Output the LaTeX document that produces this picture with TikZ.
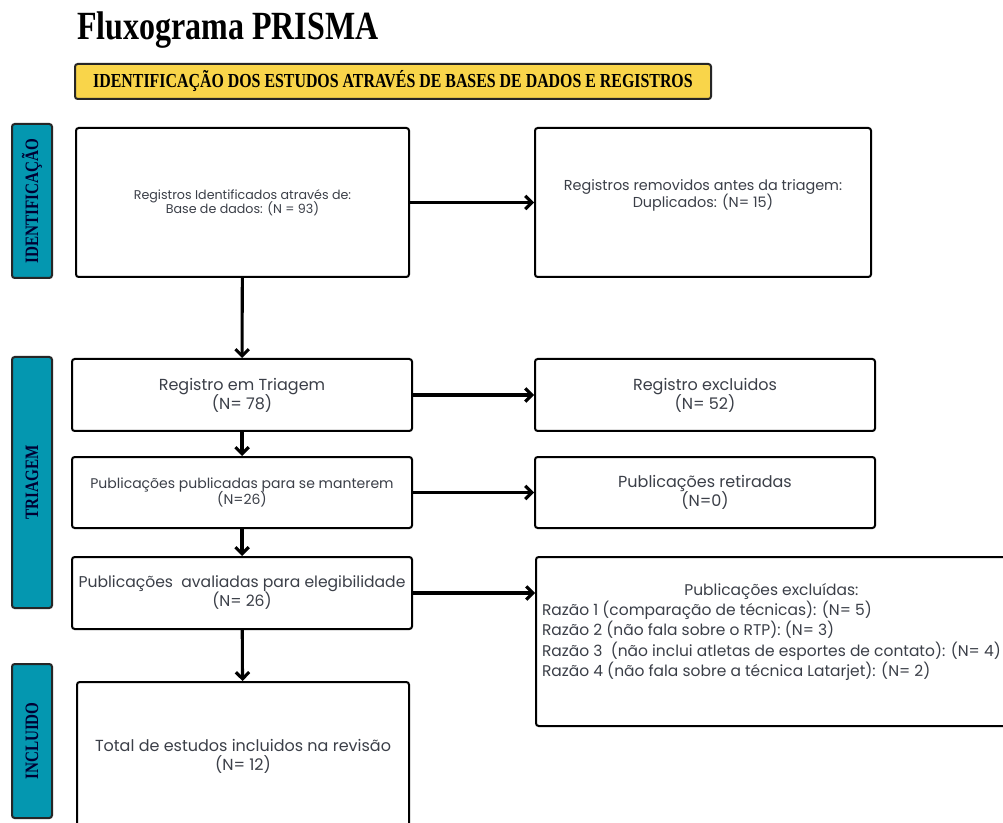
\documentclass[tikz,border=0pt]{standalone}
\usepackage{fontspec}
\usepackage{tikz}
\usetikzlibrary{arrows.meta}
\setmainfont{Poppins}
\newfontfamily\titre[FakeStretch=0.8]{Liberation Serif}
\definecolor{jaune}{HTML}{F9D54A}
\definecolor{bleu}{HTML}{0497B0}
\definecolor{texte}{HTML}{3B3F48}

\begin{document}
\begin{tikzpicture}[x=0.75pt,y=-0.75pt]
    \tikzstyle{fleche}=[-{Straight Barb[length=5pt,width=10pt]},line width=2.3pt]
\tikzset{etape/.style={draw,line width=1.5pt,rounded corners=2pt,fill=white,text=texte,align=center,
inner sep=2pt,font=\fontsize{12}{14.25}\selectfont,
execute at begin node={\lineskiplimit=-20pt\lineskip=0pt}},
phase/.style={draw=black!85,line width=1.5pt,rounded corners=2pt,fill=bleu,rotate=90,
inner sep=0pt,minimum height=30pt,text={black!80!blue},font=\titre\bfseries\fontsize{14.2}{15}\selectfont}}
\useasboundingbox (0,0) rectangle (1003,823);
\clip (0,0) rectangle (1003,823);
\fill[white] (0,0) rectangle (1003,823);

% titre et bandeau
\node[anchor=base west,inner sep=0pt,font=\titre\bfseries\fontsize{30}{32}\selectfont] (titre) at (77,40) {Fluxograma PRISMA};
\node[draw=black!85,line width=1.5pt,rounded corners=2pt,fill=jaune,minimum width=477pt,minimum height=26.25pt,
font=\titre\bfseries\fontsize{14.9}{16}\selectfont] (bandeau) at (393,81.5)
{IDENTIFICAÇÃO DOS ESTUDOS ATRAVÉS DE BASES DE DADOS E REGISTROS};

% phases
\node[phase,minimum width=115.5pt] (P1) at (32,201) {IDENTIFICAÇÃO};
\node[phase,minimum width=188.25pt] (P2) at (32,482.5) {TRIAGEM};
\node[phase,minimum width=115.5pt] (P3) at (32,741) {INCLUIDO};

% colonne de gauche
\node[etape,font=\fontsize{9.5}{10.6}\selectfont,minimum width=249.75pt,minimum height=111.75pt] (A) at (242.5,202.5)
{Registros Identificados através de:\\Base de dados: (N = 93)};
\node[etape,minimum width=255pt,minimum height=54pt] (C) at (242,395)
{Registro em Triagem\\(N= 78)};
\node[etape,font=\fontsize{10.5}{12}\selectfont,minimum width=255pt,minimum height=53.25pt] (E) at (242,492.5)
{Publicações publicadas para se manterem\\(N=26)};
\node[etape,font=\fontsize{11.7}{14.25}\selectfont,minimum width=255pt,minimum height=54pt] (G) at (242,593)
{Publicações\ \ avaliadas para elegibilidade\\(N= 26)};
\node[etape,minimum width=249pt,minimum height=111pt] (I) at (243,756)
{Total de estudos incluidos na revisão\\(N= 12)};

% colonne de droite
\node[etape,font=\fontsize{10.8}{12.75}\selectfont,minimum width=252pt,minimum height=111.75pt] (B) at (703,202.5)
{Registros removidos antes da triagem:\\Duplicados: (N= 15)\\[1pt]};
\node[etape,minimum width=255pt,minimum height=54pt] (D) at (705,395)
{Registro excluidos\\(N= 52)};
\node[etape,minimum width=255pt,minimum height=53.25pt] (F) at (705,492.5)
{Publicações retiradas\\(N=0)};
\node[etape,anchor=west,inner xsep=4.5pt,font=\fontsize{11.6}{14.1}\selectfont,minimum height=126.75pt,
execute at begin node={\lineskiplimit=0pt\lineskip=1pt}] (H) at (535,641.5)
{\begin{tabular}{@{}l@{}}
\multicolumn{1}{@{}c@{}}{Publicações excluídas:}\\
Razão 1 (comparação de técnicas): (N= 5)\\
Razão 2 (não fala sobre o RTP): (N= 3)\\
Razão 3\ \ (não inclui atletas de esportes de contato): (N= 4)\\
Razão 4 (não fala sobre a técnica Latarjet): (N= 2)\\[14pt]
\end{tabular}};

% fleches
\draw[fleche] (A) -- (B);
\draw[fleche] (A) -- (C);
\draw[fleche] (C) -- (D);
\draw[fleche] (C) -- (E);
\draw[fleche] (E) -- (F);
\draw[fleche] (E) -- (G);
\draw[fleche] (G.east) -- (G.east -| H.west);
\draw[fleche] (G) -- (I);

  \end{tikzpicture}
\end{document}
